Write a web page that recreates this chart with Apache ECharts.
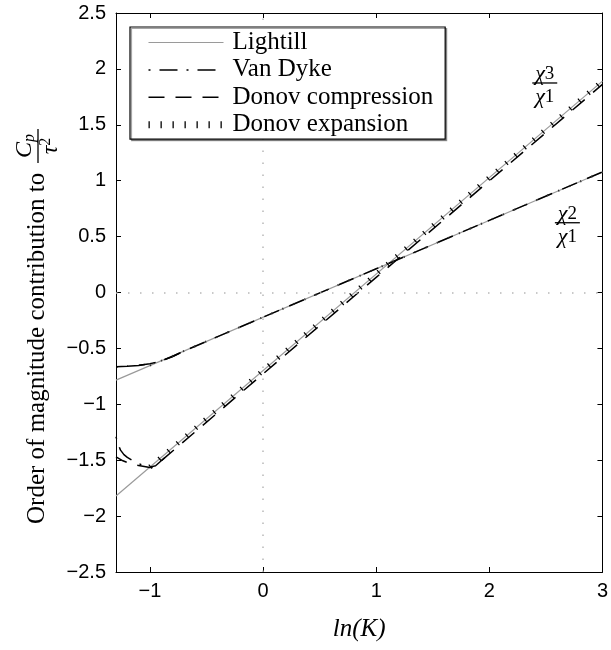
<!DOCTYPE html>
<html>
<head>
<meta charset="utf-8">
<script src="https://cdn.jsdelivr.net/npm/echarts@6/dist/echarts.min.js"></script>
<style>html,body{margin:0;padding:0;background:#fff}#c{width:611px;height:650px}</style>
</head>
<body>
<div id="c"></div>
<script>
// ---- data ----
const xTicks = [-1, 0, 1, 2, 3];
const yMin = -2.5, yMax = 2.5, yStep = 0.5;
const xMin = -1.3, xMax = 3;

const lightillChi2 = [[-1.3, -0.784], [3, 1.078]];
const lightillChi3 = [[-1.3, -1.82], [3, 1.891]];

// Van Dyke: visible where it departs from the other curves (elsewhere it lies under Donov compression)
const vanDykeChi2 = [[-1.3, -0.665], [-1.2, -0.66], [-1.1, -0.652], [-1.0, -0.638], [-0.9, -0.612], [-0.8, -0.572], [-0.7, -0.524]];
const vanDykeChi3 = [[-1.3, -1.29], [-1.28, -1.36], [-1.26, -1.41], [-1.23, -1.45], [-1.2, -1.475], [-1.15, -1.505], [-1.1, -1.53], [-1.05, -1.552], [-1.0, -1.562], [-0.95, -1.55], [-0.9, -1.505], [-0.85, -1.462]];

const compressionChi2 = [[-1.3, -0.665], [-1.2, -0.66], [-1.1, -0.652], [-1.0, -0.638], [-0.9, -0.612], [-0.8, -0.572], [-0.7, -0.524], [0, -0.221], [1, 0.212], [2, 0.645], [3, 1.078]];
const compressionChi3 = [[-1.3, -1.47], [-1.25, -1.5], [-1.2, -1.52], [-1.15, -1.535], [-1.1, -1.548], [-1.05, -1.556], [-1.0, -1.565], [-0.95, -1.552], [-0.9, -1.505], [0, -0.728], [1, 0.135], [2, 0.998], [3, 1.861]];

const expansionChi2 = [[-1.0, -0.654], [3, 1.078]];
const expansionChi3 = [[-1.0, -1.561], [3, 1.891]];

const legendNames = ['Lightill', 'Van Dyke', 'Donov compression', 'Donov expansion'];
const annotations = [
  {num: '3', den: '1', x: 2.49, y: 1.874},
  {num: '2', den: '1', x: 2.69, y: 0.624}
];

// ---- chart ----
const chart = echarts.init(document.getElementById('c'), null, {renderer: 'canvas'});
const fmt = v => (v < 0 ? '\u2212' : '') + String(Math.abs(Math.round(v * 10) / 10));
const serif = 'Liberation Serif';
const sans = 'Liberation Sans';
const grayC = '#9a9a9a';

const styles = {
  'Lightill': {color: grayC, width: 1.2, type: 'solid'},
  'Van Dyke': {color: '#000', width: 1.5, type: [2, 9, 18, 9]},
  'Donov compression': {color: '#000', width: 1.5, type: [16, 11], dashOffset: 4},
  'Donov expansion': {color: '#000', width: 5, type: [1.2, 10.8]}
};

function lineSeries(name, data, style, z) {
  return {name, type: 'line', data, symbol: 'none', showSymbol: false, silent: true,
    animation: false, z: z || 2, itemStyle: {color: style.color},
    lineStyle: Object.assign({cap: 'butt'}, style)};
}

const series = [
  Object.assign(lineSeries('Lightill', lightillChi2, styles['Lightill'], 3), {
    markLine: {silent: true, symbol: 'none', label: {show: false}, animation: false,
      lineStyle: {color: '#b8b8b8', width: 1.5, type: [1.5, 10.5]},
      data: [{xAxis: 0}, {yAxis: 0}]}
  }),
  lineSeries('Lightill', lightillChi3, styles['Lightill'], 3),
  lineSeries('Van Dyke', vanDykeChi3, styles['Van Dyke'], 4),
  lineSeries('Van Dyke', vanDykeChi2, styles['Van Dyke'], 4),
  lineSeries('Donov compression', compressionChi3, styles['Donov compression'], 4),
  lineSeries('Donov compression', compressionChi2, styles['Donov compression'], 4),
  lineSeries('Donov expansion', expansionChi3, styles['Donov expansion'], 5),
  lineSeries('Donov expansion', expansionChi2, Object.assign({}, styles['Donov expansion'], {color: '#333', width: 2}), 5)
];

const axisCommon = {
  axisLine: {show: true, onZero: false, lineStyle: {color: '#000', width: 1}},
  splitLine: {show: false}
};

const legendData = legendNames.map(n => ({
  name: n,
  lineStyle: {color: styles[n].color, width: n === 'Donov expansion' ? 7 : styles[n].width,
    type: n === 'Donov expansion' ? [1.3, 10.7] : styles[n].type, cap: 'butt', dashOffset: 0}
}));

chart.setOption({
  animation: false,
  backgroundColor: '#fff',
  grid: {left: 116, right: 8, top: 13, bottom: 78, containLabel: false},
  xAxis: [
    Object.assign({}, axisCommon, {
      type: 'value', min: xMin, max: xMax, position: 'bottom',
      axisTick: {show: true, inside: true, length: 5, customValues: xTicks, lineStyle: {color: '#000'}},
      axisLabel: {show: true, customValues: xTicks, formatter: fmt, color: '#000', fontFamily: sans, fontSize: 20, margin: 9},
      name: 'ln(K)', nameLocation: 'middle', nameGap: 45,
      nameTextStyle: {fontFamily: serif, fontStyle: 'italic', fontSize: 25, color: '#000'}
    }),
    Object.assign({}, axisCommon, {
      type: 'value', min: xMin, max: xMax, position: 'top',
      axisTick: {show: true, inside: true, length: 5, customValues: xTicks, lineStyle: {color: '#000'}},
      axisLabel: {show: false}
    })
  ],
  yAxis: [
    Object.assign({}, axisCommon, {
      type: 'value', min: yMin, max: yMax, interval: yStep, position: 'left',
      axisTick: {show: true, inside: true, length: 5, lineStyle: {color: '#000'}},
      axisLabel: {formatter: fmt, color: '#000', fontFamily: sans, fontSize: 20, margin: 10}
    }),
    Object.assign({}, axisCommon, {
      type: 'value', min: yMin, max: yMax, interval: yStep, position: 'right',
      axisTick: {show: true, inside: true, length: 5, lineStyle: {color: '#000'}},
      axisLabel: {show: false}
    })
  ],
  legend: {
    data: legendData, orient: 'vertical', left: 130, top: 27,
    itemWidth: 75, itemHeight: 27, itemGap: 2.4,
    padding: [3, 12, 2, 15],
    itemStyle: {opacity: 0},
    backgroundColor: '#fff', borderColor: '#000', borderWidth: 1.2,
    shadowColor: 'rgba(0,0,0,0.35)', shadowOffsetX: 1.5, shadowOffsetY: 1.5, shadowBlur: 0,
    selectedMode: false,
    textStyle: {fontFamily: serif, fontSize: 25, color: '#000', padding: [0, 0, 0, 4]},
    z: 10
  },
  series
});

// ---- text annotations positioned from data coordinates ----
const g = [];
const chiRich = {
  c: {font: 'italic 22px ' + serif, fill: '#000'},
  d: {font: '19px ' + serif, fill: '#000'}
};
annotations.forEach(a => {
  const p = chart.convertToPixel({xAxisIndex: 0, yAxisIndex: 0}, [a.x, a.y]);
  g.push({type: 'text', x: p[0], y: p[1] - 9, z: 20,
    style: {text: '{c|χ}{d|' + a.num + '}', rich: chiRich, align: 'center', verticalAlign: 'middle'}});
  g.push({type: 'line', z: 20, shape: {x1: p[0] - 12.5, y1: p[1], x2: p[0] + 12.5, y2: p[1]},
    style: {stroke: '#000', lineWidth: 1.3}});
  g.push({type: 'text', x: p[0], y: p[1] + 14, z: 20,
    style: {text: '{c|χ}{d|' + a.den + '}', rich: chiRich, align: 'center', verticalAlign: 'middle'}});
});
// y axis title (rotated), with fraction C_p / tau^2
g.push({
  type: 'group', x: 37, y: 524, rotation: Math.PI / 2, z: 20,
  children: [
    {type: 'text', x: 0, y: 0, style: {text: 'Order of magnitude contribution to', font: '25px ' + serif, fill: '#000', align: 'left', verticalAlign: 'middle'}},
    {type: 'text', x: 378, y: -12, style: {
      text: '{c|C}{s|p}', align: 'center', verticalAlign: 'middle',
      rich: {c: {font: 'italic 24px ' + serif, fill: '#000'}, s: {font: 'italic 16px ' + serif, fill: '#000', padding: [10, 0, 0, 0]}}}},
    {type: 'line', shape: {x1: 361, y1: 1, x2: 395, y2: 1}, style: {stroke: '#000', lineWidth: 1.3}},
    {type: 'text', x: 378, y: 14, style: {
      text: '{c|τ}{s|2}', align: 'center', verticalAlign: 'middle',
      rich: {c: {font: 'italic 24px ' + serif, fill: '#000'}, s: {font: '16px ' + serif, fill: '#000', padding: [0, 0, 10, 0]}}}}
  ]
});
chart.setOption({graphic: g});
</script>
</body>
</html>
